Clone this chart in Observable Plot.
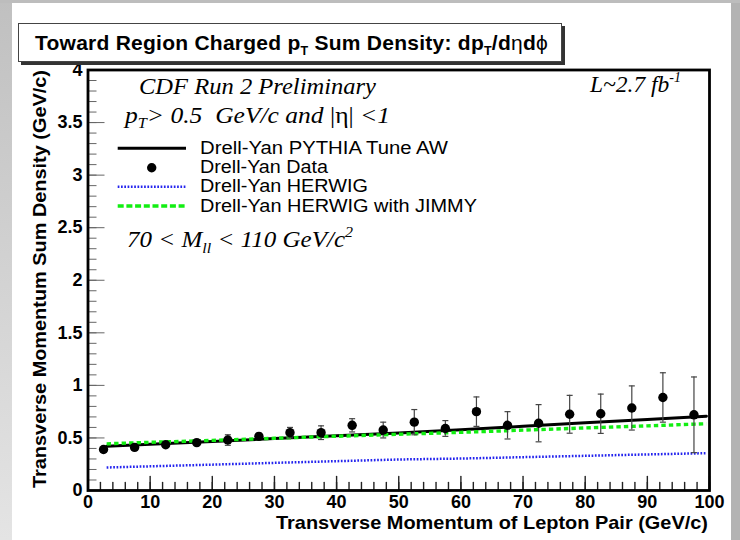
<!DOCTYPE html>
<html><head><meta charset="utf-8">
<script src="https://cdn.jsdelivr.net/npm/d3@7"></script>
<script src="https://cdn.jsdelivr.net/npm/@observablehq/plot@0.6"></script>
<style>
html,body{margin:0;padding:0;background:#fff;}
#wrap{position:relative;width:740px;height:540px;overflow:hidden;background:#fff;}
#chart{position:absolute;left:0;top:0;}
.lstrip{position:absolute;left:0;top:0;width:12px;height:540px;background:linear-gradient(#c0c0c0,#e4e4e4);}
.rstrip{position:absolute;right:0;top:0;width:9px;height:540px;background:#b3b3b3;}
.tstrip{position:absolute;left:0;top:0;width:740px;height:3px;background:#bdbdbd;}
#title{position:absolute;left:18px;top:23px;width:526px;height:37px;padding-left:16px;border:1px solid #444;box-shadow:3px 3px 0 #333;background:#fff;
  font:bold 21px "Liberation Sans",Arial,sans-serif;letter-spacing:0.25px;line-height:37px;white-space:nowrap;color:#000;}
#title .sub{font-size:12.5px;position:relative;top:5px;}
#title .gr{font-weight:normal;}
</style></head>
<body>
<div id="wrap">
  <div id="chart"></div>
  <div class="lstrip"></div><div class="rstrip"></div><div class="tstrip"></div>
  <div id="title">Toward Region Charged p<span class="sub">T</span> Sum Density: dp<span class="sub">T</span>/d<span class="gr">η</span>d<span class="gr">ϕ</span></div>
</div>
<script>
// ---- data ----
const binCenters = [2.5, 7.5, 12.5, 17.5, 22.5, 27.5, 32.5, 37.5, 42.5, 47.5, 52.5, 57.5, 62.5, 67.5, 72.5, 77.5, 82.5, 87.5, 92.5, 97.5];
const dataY   = [0.39, 0.41, 0.435, 0.455, 0.48, 0.515, 0.55, 0.55, 0.62, 0.575, 0.65, 0.59, 0.75, 0.62, 0.64, 0.725, 0.73, 0.785, 0.885, 0.72];
const dataErr = [0.02, 0.02, 0.02, 0.025, 0.05, 0.03, 0.05, 0.065, 0.063, 0.075, 0.12, 0.075, 0.14, 0.13, 0.177, 0.18, 0.187, 0.21, 0.235, 0.36];

const modelX    = [3, 10, 20, 30, 40, 50, 60, 70, 80, 90, 99.5];
const pythiaY   = [0.42, 0.44, 0.467, 0.494, 0.52, 0.547, 0.577, 0.611, 0.644, 0.676, 0.707];
const jimmyY    = [0.444, 0.458, 0.477, 0.497, 0.516, 0.535, 0.553, 0.574, 0.595, 0.615, 0.635];
const herwigY   = [0.219, 0.23, 0.246, 0.263, 0.279, 0.295, 0.304, 0.317, 0.33, 0.343, 0.355];

const legendLabels = ["Drell-Yan PYTHIA Tune AW", "Drell-Yan Data", "Drell-Yan HERWIG", "Drell-Yan HERWIG with JIMMY"];
const xMajorTicks = [0, 10, 20, 30, 40, 50, 60, 70, 80, 90, 100];
const xMinorTicks = d3.range(0, 101, 2);
const yMajorTicks = [0, 0.5, 1, 1.5, 2, 2.5, 3, 3.5, 4];
const yMinorTicks = d3.range(0, 40.5, 1).map(v => v / 10);
const xTitle = "Transverse Momentum of Lepton Pair (GeV/c)";
const yTitle = "Transverse Momentum Sum Density (GeV/c)";

// ---- build ----
const dataRows = binCenters.map((x, i) => ({x, y: dataY[i], e: dataErr[i]}));
const rows = ys => modelX.map((x, i) => ({x, y: ys[i]}));
const sans = "'Liberation Sans', Arial, Helvetica, sans-serif";
const serif = "'Liberation Serif', 'Times New Roman', serif";
const BLUE = "#2323ee", GREEN = "#12ee12";
const capSymbol = {draw(ctx) { ctx.moveTo(-3, 0); ctx.lineTo(3, 0); }};
const tickUp = {draw(ctx, l) { ctx.moveTo(0, 0); ctx.lineTo(0, -l); }};

const plot = Plot.plot({
  width: 740, height: 540,
  marginLeft: 87.5, marginRight: 31, marginTop: 69.5, marginBottom: 50,
  style: {background: "transparent", fontFamily: sans, color: "#000", overflow: "visible"},
  x: {domain: [0, 100]},
  y: {domain: [0, 4]},
  marks: [
    // inward x ticks as short upward vectors from the x axis
    Plot.vector(xMinorTicks, {x: d => d, frameAnchor: "bottom", length: 8, rotate: 0, anchor: "start", shape: tickUp, stroke: "#222", strokeWidth: 1.4}),
    Plot.vector(xMajorTicks, {x: d => d, frameAnchor: "bottom", length: 14, rotate: 0, anchor: "start", shape: tickUp, stroke: "#222", strokeWidth: 1.4}),
    Plot.axisX(xMajorTicks, {tickSize: 0, tickPadding: 5, label: null, fontSize: 18, fontWeight: "bold", tickFormat: d => String(d)}),
    // inward y ticks: outward ticks shifted back inside the frame
    Plot.axisY(yMinorTicks, {tickSize: 9, dx: 9, fill: "none", label: null, stroke: "#666"}),
    Plot.axisY(yMajorTicks, {tickSize: 17, dx: 17, fill: "none", label: null, stroke: "#666"}),
    Plot.axisY(yMajorTicks, {tickSize: 0, tickPadding: 5.5, label: null, fontSize: 18, fontWeight: "bold", tickFormat: d => String(d)}),
    Plot.line(rows(herwigY), {x: "x", y: "y", stroke: BLUE, strokeWidth: 2.5, strokeLinecap: "butt", strokeDasharray: "1.7,1.6"}),
    Plot.line(rows(pythiaY), {x: "x", y: "y", stroke: "#000", strokeWidth: 3}),
    Plot.line(rows(jimmyY), {x: "x", y: "y", stroke: GREEN, strokeWidth: 3.4, strokeLinecap: "butt", strokeDasharray: "4.4,3.1"}),
    Plot.ruleX(dataRows, {x: "x", y1: d => d.y - d.e, y2: d => d.y + d.e, stroke: "#444", strokeWidth: 1.2}),
    Plot.dot(dataRows, {x: "x", y: d => d.y - d.e, symbol: capSymbol, r: 3, stroke: "#444", strokeWidth: 1.2, fill: "none"}),
    Plot.dot(dataRows, {x: "x", y: d => d.y + d.e, symbol: capSymbol, r: 3, stroke: "#444", strokeWidth: 1.2, fill: "none"}),
    Plot.dot(dataRows, {x: "x", y: "y", r: 4.7, fill: "#000"}),
    Plot.frame({stroke: "#000", strokeWidth: 2.8})
  ]
});
document.getElementById("chart").appendChild(plot);

// ---- annotations, legend and axis titles (text) ----
const svg = d3.select(plot);
const g = svg.append("g").attr("fill", "#000").attr("text-anchor", "start");

function txt(x, y, opts) {
  const t = g.append("text").attr("x", x).attr("y", y)
    .attr("font-family", opts.family || sans)
    .attr("font-size", opts.size)
    .attr("text-anchor", opts.anchor || "start")
    .style("white-space", "pre");
  if (opts.weight) t.attr("font-weight", opts.weight);
  if (opts.italic) t.attr("font-style", "italic");
  if (opts.rotate) t.attr("transform", `rotate(${opts.rotate},${x},${y})`);
  if (opts.len) t.attr("textLength", opts.len).attr("lengthAdjust", "spacingAndGlyphs");
  return t;
}
// axis titles
txt(708, 529, {size: 19, weight: "bold", anchor: "end", len: 432}).text(xTitle);
txt(46, 279, {size: 19, weight: "bold", anchor: "middle", rotate: -90, len: 418}).text(yTitle);

// annotations
txt(139, 93.5, {family: serif, size: 23.5, italic: true, len: 237}).text("CDF Run 2 Preliminary");
{
  const t = txt(590, 92, {family: serif, size: 23.5, italic: true});
  t.append("tspan").text("L~2.7 fb");
  t.append("tspan").attr("font-size", 14).attr("dy", -10).text("-1");
}
{
  const t = txt(125, 123, {family: serif, size: 23.5, italic: true, len: 265});
  t.append("tspan").text("p");
  t.append("tspan").attr("font-size", 15).attr("dy", 5).text("T");
  t.append("tspan").attr("dy", -5).text("> 0.5  GeV/c and ");
  t.append("tspan").attr("font-style", "normal").text("|η|");
  t.append("tspan").text(" <1");
}
{
  const t = txt(127, 247, {family: serif, size: 23.5, italic: true, len: 226});
  t.append("tspan").text("70 < M");
  t.append("tspan").attr("font-size", 15).attr("dy", 6).text("ll");
  t.append("tspan").attr("dy", -6).text(" < 110 GeV/c");
  t.append("tspan").attr("font-size", 15).attr("dy", -10).text("2");
}

// legend
const legY = [148.3, 167.7, 186.7, 206];
const legLen = [248, 128, 168, 277];
g.append("line").attr("x1", 117.7).attr("x2", 186).attr("y1", legY[0]).attr("y2", legY[0]).attr("stroke", "#000").attr("stroke-width", 3);
g.append("circle").attr("cx", 151.7).attr("cy", legY[1]).attr("r", 4.7).attr("fill", "#000");
g.append("line").attr("x1", 117.7).attr("x2", 186).attr("y1", legY[2]).attr("y2", legY[2]).attr("stroke", BLUE).attr("stroke-width", 2.5).attr("stroke-dasharray", "1.7,1.6");
g.append("line").attr("x1", 117.7).attr("x2", 186).attr("y1", legY[3]).attr("y2", legY[3]).attr("stroke", GREEN).attr("stroke-width", 3.4).attr("stroke-dasharray", "6,2.7");
legendLabels.forEach((s, i) => txt(200, legY[i] + 5.5, {size: 17.5, len: legLen[i]}).text(s));
</script>
</body></html>
